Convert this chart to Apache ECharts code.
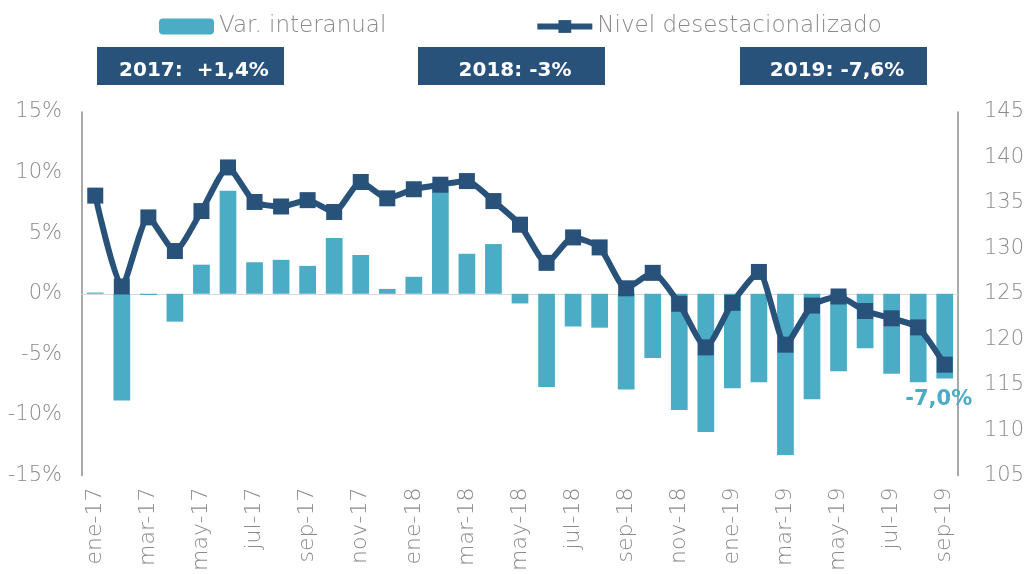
<!DOCTYPE html>
<html>
<head>
<meta charset="utf-8">
<script src="https://cdn.jsdelivr.net/npm/echarts@6/dist/echarts.min.js"></script>
<style>
  html, body { margin: 0; padding: 0; background: #fff; }
  #chart { width: 1031px; height: 574px; }
</style>
</head>
<body>
<div id="chart"></div>
<script>
// months ene-17 .. sep-19
var months = ['ene-17', 'feb-17', 'mar-17', 'abr-17', 'may-17', 'jun-17', 'jul-17', 'ago-17', 'sep-17', 'oct-17', 'nov-17', 'dic-17',
  'ene-18', 'feb-18', 'mar-18', 'abr-18', 'may-18', 'jun-18', 'jul-18', 'ago-18', 'sep-18', 'oct-18', 'nov-18', 'dic-18',
  'ene-19', 'feb-19', 'mar-19', 'abr-19', 'may-19', 'jun-19', 'jul-19', 'ago-19', 'sep-19']

// Var. interanual (%)
var varInteranual = [0.1, -8.8, -0.1, -2.3, 2.4, 8.5, 2.6, 2.8, 2.3, 4.6, 3.2, 0.4,
  1.4, 8.8, 3.3, 4.1, -0.8, -7.7, -2.7, -2.8, -7.9, -5.3, -9.6, -11.4,
  -7.8, -7.3, -13.3, -8.7, -6.4, -4.5, -6.6, -7.3, -7.0]

// Nivel desestacionalizado (indice)
var nivel = [135.8, 125.8, 133.4, 129.7, 134.1, 138.9, 135.1, 134.6, 135.3, 134.0, 137.3, 135.5,
  136.5, 137.0, 137.4, 135.2, 132.6, 128.4, 131.2, 130.1, 125.6, 127.3, 123.9, 119.1,
  124.0, 127.4, 119.4, 123.7, 124.7, 123.1, 122.3, 121.3, 117.2]

var yearBoxes = ['2017:  +1,4%', '2018: -3%', '2019: -7,6%']

var barColor = '#4bacc6'
var lineColor = '#29527a'
var grey = '#8a8a8a'
var font = '"DejaVu Sans", sans-serif'

var chart = echarts.init(document.getElementById('chart'))

var barData = varInteranual.map(function (v, i) {
  if (i === varInteranual.length - 1) {
    return {
      value: v,
      label: {
        show: true,
        position: 'bottom',
        distance: 10,
        offset: [-6, 0],
        formatter: '-7,0%',
        color: barColor,
        fontWeight: 'bold',
        fontSize: 21,
        fontFamily: font
      }
    }
  }
  return v
})

// year summary boxes above the plot
var boxX = [97, 418, 740]
var graphics = []
yearBoxes.forEach(function (t, i) {
  graphics.push({
    type: 'rect',
    left: boxX[i],
    top: 47,
    shape: { width: 187, height: 38 },
    style: { fill: lineColor }
  })
  graphics.push({
    type: 'text',
    x: boxX[i] + 97,
    y: 71,
    style: {
      text: t,
      fill: '#fff',
      font: 'bold 20px ' + font,
      align: 'center',
      verticalAlign: 'middle'
    }
  })
})

chart.setOption({
  animation: false,
  textStyle: { fontFamily: font },
  legend: {
    left: 154,
    top: 10,
    itemWidth: 55,
    itemHeight: 16,
    itemGap: 148,
    textStyle: { color: grey, fontSize: 23, fontWeight: 200, fontFamily: font },
    data: [
      { name: 'Var. interanual' },
      { name: 'Nivel desestacionalizado', lineStyle: { width: 6 } }
    ]
  },
  grid: {
    left: 82,
    right: 73,
    top: 112,
    bottom: 95
  },
  xAxis: {
    type: 'category',
    data: months,
    axisTick: { show: false },
    axisLine: { lineStyle: { color: '#d9d9d9', width: 1 } },
    axisLabel: {
      interval: 1,
      rotate: 90,
      color: grey,
      fontSize: 22,
      fontWeight: 200,
      margin: 12
    }
  },
  yAxis: [{
    type: 'value',
    min: -15,
    max: 15,
    interval: 5,
    splitLine: { show: false },
    axisLine: { show: true, lineStyle: { color: '#8c8c8c', width: 1.5 } },
    axisTick: { show: false },
    axisLabel: { formatter: '{value}%', color: grey, fontSize: 21, fontWeight: 200, margin: 20 }
  }, {
    type: 'value',
    min: 105,
    max: 145,
    interval: 5,
    splitLine: { show: false },
    axisLine: { show: true, lineStyle: { color: '#8c8c8c', width: 1.5 } },
    axisTick: { show: false },
    axisLabel: { color: grey, fontSize: 21, fontWeight: 200, margin: 26 }
  }],
  series: [{
    name: 'Var. interanual',
    type: 'bar',
    data: barData,
    barCategoryGap: '37%',
    itemStyle: { color: barColor }
  }, {
    name: 'Nivel desestacionalizado',
    type: 'line',
    yAxisIndex: 1,
    data: nivel,
    smooth: 0.2,
    symbol: 'rect',
    symbolSize: 16,
    lineStyle: { color: lineColor, width: 6 },
    itemStyle: { color: lineColor },
    z: 5
  }],
  graphic: graphics
})
</script>
</body>
</html>
